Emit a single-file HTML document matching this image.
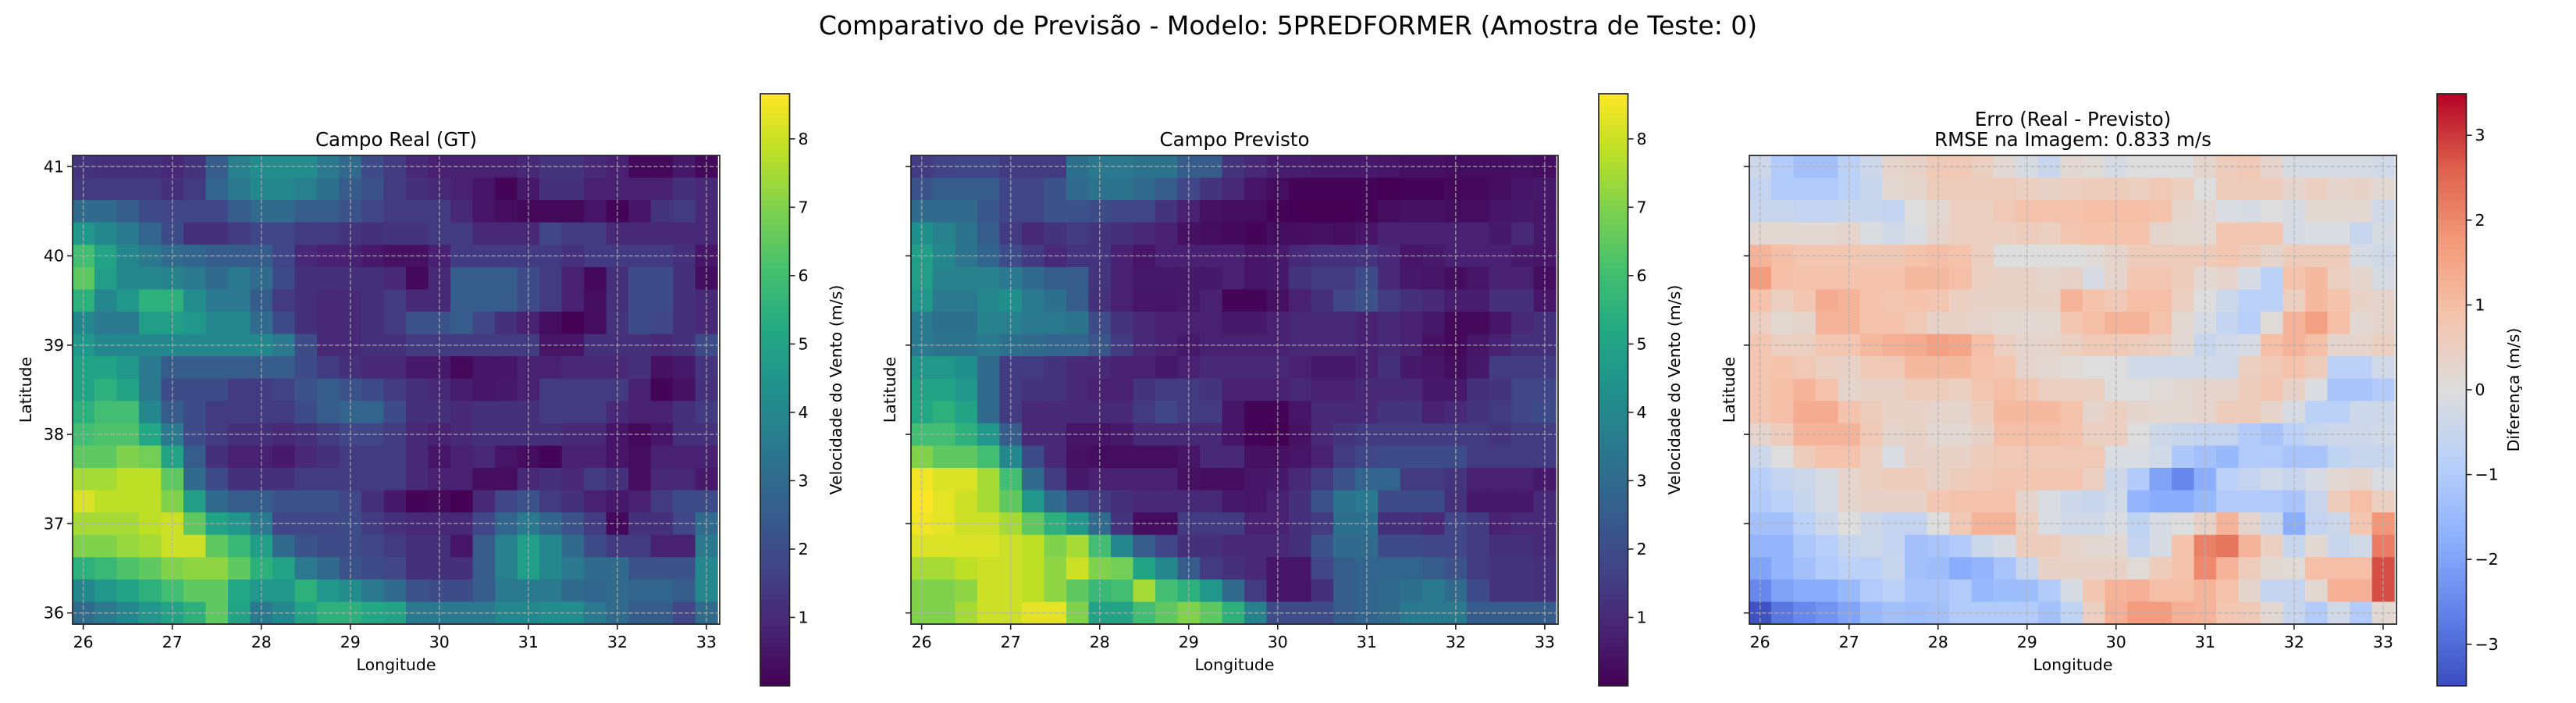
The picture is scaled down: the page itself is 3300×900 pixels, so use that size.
<!DOCTYPE html>
<html><head><meta charset="utf-8">
<style>
html,body{margin:0;padding:0;background:#fff;}
svg{display:block;font-family:"DejaVu Sans","Liberation Sans",sans-serif;}
</style></head>
<body>
<svg id="fig" width="3300" height="900" viewBox="0 0 3300 900" xmlns="http://www.w3.org/2000/svg">
<rect x="0" y="0" width="3300" height="900" fill="#fff"/>
<text x="1650" y="44" font-size="33" text-anchor="middle">Comparativo de Previsão - Modelo: 5PREDFORMER (Amostra de Teste: 0)</text>
</svg>
<script>
const lons=[26,26.25,26.5,26.75,27,27.25,27.5,27.75,28,28.25,28.5,28.75,29,29.25,29.5,29.75,30,30.25,30.5,30.75,31,31.25,31.5,31.75,32,32.25,32.5,32.75,33];
const lats=[41,40.75,40.5,40.25,40,39.75,39.5,39.25,39,38.75,38.5,38.25,38,37.75,37.5,37.25,37,36.75,36.5,36.25,36];
const xTicks=[26,27,28,29,30,31,32,33];
const yTicks=[36,37,38,39,40,41];
const speedTicks=[1,2,3,4,5,6,7,8];
const diffTicks=[-3,-2,-1,0,1,2,3];
const speedRange=[0.0,8.66];
const diffRange=[-3.49,3.49];
const gtValues=[
[1.3,1.2,1.2,1.2,1.0,1.3,2.5,3.7,4.2,4.2,4.2,3.5,3.0,2.0,1.5,1.0,0.8,0.8,0.8,0.8,1.0,1.3,1.3,1.0,0.8,0.2,0.2,0.6,0.2],
[1.5,1.5,1.5,1.5,1.2,1.5,2.8,3.5,4.0,4.0,3.7,3.2,2.5,2.2,1.5,1.2,1.0,0.8,0.5,0.1,0.6,1.2,1.2,0.8,0.8,0.8,0.8,1.2,1.0],
[3.0,3.0,2.5,2.0,1.8,1.8,1.8,2.5,3.0,3.0,2.5,2.5,2.2,1.8,1.5,1.5,1.5,1.0,0.5,0.3,0.2,0.2,0.2,0.5,0.1,0.5,1.3,1.5,1.0],
[4.5,4.0,3.5,2.8,2.0,1.2,1.2,1.5,1.8,1.8,1.5,1.5,1.3,1.2,1.3,1.3,1.5,1.5,1.0,1.0,1.0,1.8,1.5,1.5,1.0,1.0,1.0,1.0,1.0],
[6.0,5.0,4.0,3.5,3.0,2.8,2.5,2.5,2.5,1.8,1.0,0.8,0.8,0.6,0.4,0.4,0.8,1.5,1.5,1.5,1.5,1.5,1.2,1.5,1.5,1.5,1.5,1.2,0.5],
[6.5,4.8,4.0,4.0,3.8,3.5,3.0,3.5,3.0,2.0,1.2,1.2,1.2,1.2,1.0,0.2,1.0,2.5,2.5,2.5,2.0,1.5,0.8,0.2,1.2,2.0,2.0,1.2,0.3],
[5.5,4.0,4.5,5.5,5.5,4.2,3.5,3.5,2.5,1.5,1.2,1.0,1.0,1.2,1.5,1.0,1.0,2.5,2.5,2.5,2.0,1.5,0.8,0.3,1.2,2.0,2.0,1.2,1.0],
[4.0,3.5,3.5,4.8,4.8,4.5,4.0,4.0,3.0,2.0,1.2,1.0,1.0,1.2,1.5,2.2,2.2,2.5,1.8,1.2,0.8,0.3,0.0,0.3,1.3,2.0,1.8,1.2,1.0],
[4.5,4.0,4.0,4.0,4.0,4.0,4.0,4.0,4.0,3.5,2.0,1.0,1.0,1.2,1.2,1.5,1.5,1.5,1.5,1.5,1.5,0.5,0.5,1.2,1.2,1.2,1.0,1.2,2.0],
[5.0,5.0,4.5,3.5,2.5,2.5,2.5,2.5,2.5,2.5,2.0,1.5,1.2,1.0,1.0,0.6,0.6,0.2,0.5,0.5,0.8,0.8,1.0,1.0,1.0,1.2,0.4,0.6,1.3],
[5.0,5.5,5.0,3.5,2.0,2.0,2.0,1.5,1.5,1.7,2.2,2.5,2.2,2.0,1.5,1.2,1.0,0.7,0.5,0.6,0.8,1.5,1.5,1.5,1.5,0.8,0.1,0.4,1.2],
[5.5,6.0,6.0,4.0,2.5,2.0,1.5,1.5,1.5,1.5,2.0,2.5,2.8,2.8,2.0,1.2,1.2,1.0,1.2,1.2,1.2,1.5,1.5,1.5,1.0,0.8,0.8,1.2,1.5],
[6.0,6.2,6.2,5.2,3.5,2.0,1.5,1.2,1.2,1.0,1.2,1.5,1.8,1.8,1.5,1.0,0.8,1.0,1.2,1.2,1.2,1.2,1.0,1.0,0.5,0.2,0.5,1.2,1.2],
[6.5,6.5,7.0,6.8,5.0,2.5,1.2,0.8,0.8,0.6,1.0,1.2,1.5,1.5,1.5,1.0,0.5,0.8,1.0,0.5,0.3,0.1,0.8,0.8,0.5,0.3,0.8,0.8,0.8],
[7.5,7.5,7.8,7.8,6.5,3.0,2.0,1.2,1.2,1.2,1.5,1.5,1.5,1.5,1.5,1.0,0.8,0.8,0.3,0.3,1.0,1.2,1.0,1.5,1.2,0.3,1.0,1.0,0.6],
[8.2,7.8,7.8,7.8,7.0,4.8,3.0,2.5,2.5,2.2,2.2,2.2,1.8,1.2,0.6,0.1,0.2,0.0,1.0,1.8,2.2,1.5,1.2,0.8,0.6,0.8,1.5,2.0,2.0],
[7.5,7.5,7.5,7.8,8.0,6.5,5.0,4.5,3.5,1.8,1.8,1.8,2.0,1.5,1.2,1.0,1.0,1.0,1.8,2.8,3.5,2.8,2.2,1.5,0.2,1.2,1.2,1.8,3.0],
[7.0,7.0,7.3,7.5,8.0,8.0,6.5,5.8,4.8,3.0,2.2,2.0,2.0,1.8,1.5,1.2,1.2,0.5,2.5,3.8,4.8,4.0,3.0,2.0,1.5,1.5,0.8,0.8,3.5],
[5.5,5.8,6.2,6.5,7.0,7.2,7.2,6.5,5.5,5.0,3.5,3.0,2.2,2.0,1.8,1.2,1.2,1.2,2.5,3.8,4.8,4.0,3.5,3.0,3.0,2.2,2.2,2.2,4.0],
[4.0,4.5,5.0,5.5,6.0,6.5,6.5,5.2,4.5,4.5,5.5,4.5,4.2,3.5,3.0,2.2,2.0,2.0,2.5,3.5,3.5,3.5,3.0,2.8,3.0,2.8,2.8,2.5,4.0],
[3.0,3.5,4.0,4.5,5.0,5.5,6.5,5.0,3.5,4.0,5.0,5.5,5.5,5.2,5.0,3.5,3.5,3.5,3.5,4.0,4.0,4.2,4.2,3.5,3.0,2.5,2.5,1.8,3.0]];
const predValues=[
[1.5,1.7,1.8,1.8,1.5,1.5,1.5,3.2,3.5,3.5,3.3,3.3,2.5,2.5,1.3,1.0,0.7,0.7,0.6,0.6,0.6,0.5,0.4,0.4,0.3,0.3,0.3,0.4,0.3],
[2.2,2.5,2.5,2.5,1.8,1.8,2.2,3.0,3.3,3.3,3.0,2.5,1.8,1.3,1.0,0.5,0.3,0.1,0.1,0.1,0.1,0.0,0.1,0.1,0.2,0.2,0.3,0.5,0.6],
[3.0,3.0,3.0,2.3,1.8,1.8,2.2,2.2,2.0,1.8,1.8,1.3,0.8,0.4,0.3,0.3,0.1,0.0,0.0,0.0,0.1,0.3,0.4,0.4,0.3,0.3,0.5,0.6,0.5],
[4.3,3.8,3.3,2.5,1.5,1.0,1.3,1.5,1.3,1.2,1.0,0.8,0.4,0.3,0.2,0.1,0.3,0.3,0.4,0.3,0.5,0.8,0.8,0.8,0.8,0.8,0.6,1.0,0.6],
[4.8,4.0,3.3,2.8,2.0,1.5,1.0,1.3,1.3,0.8,0.5,0.8,0.8,0.8,0.8,0.5,0.6,1.0,1.2,1.2,1.3,1.0,0.5,0.6,0.8,0.8,0.8,0.6,0.5],
[4.8,3.8,3.8,3.8,3.5,3.0,2.5,2.5,1.3,0.8,0.6,0.6,0.6,0.6,0.8,0.5,0.6,1.3,1.5,1.5,2.0,1.0,0.6,0.5,0.3,0.5,0.8,0.8,0.3],
[4.5,3.5,3.5,4.0,4.3,3.5,3.2,2.5,1.2,0.8,0.5,0.5,0.6,0.8,0.1,0.1,0.4,0.8,1.2,1.8,2.2,1.5,1.2,1.0,0.7,0.7,1.2,1.2,0.5],
[3.5,3.2,3.2,3.8,3.7,3.5,3.5,3.3,2.0,1.3,1.0,0.8,0.8,0.8,0.6,0.6,0.8,1.0,1.0,1.0,0.8,1.0,0.8,0.6,0.2,0.2,0.5,1.0,1.2],
[3.5,3.3,3.3,3.5,3.2,3.0,2.8,2.8,2.3,1.5,1.0,0.8,0.6,0.8,0.8,0.8,0.8,1.0,1.0,1.0,0.8,1.0,0.8,0.4,0.2,0.5,0.8,1.2,1.2],
[4.5,4.5,4.3,3.0,1.5,1.5,1.3,1.0,1.0,0.8,0.8,0.6,0.8,1.0,1.0,1.0,1.0,0.8,0.6,0.6,0.8,1.2,0.6,0.5,0.3,0.6,1.5,1.5,1.5],
[5.0,5.0,4.5,3.0,1.5,1.3,1.3,1.0,0.8,0.8,1.3,1.5,1.5,1.3,0.8,0.8,0.8,1.0,0.8,0.8,1.0,1.0,1.0,0.6,0.6,1.2,1.3,1.8,1.8],
[5.2,5.5,5.0,3.0,1.5,1.0,1.0,1.0,1.0,1.0,1.5,1.8,1.5,1.5,0.5,0.1,0.1,0.5,1.0,1.0,1.0,1.3,1.3,0.8,1.0,1.3,1.5,1.8,2.0],
[6.0,6.0,5.5,4.5,2.5,1.0,1.0,0.5,0.5,0.6,1.0,1.0,1.0,1.0,0.5,0.1,0.0,0.4,1.0,1.3,1.5,1.5,1.5,1.5,1.5,1.5,1.3,1.5,1.5],
[7.0,6.5,6.5,6.0,4.0,2.0,1.0,0.4,0.3,0.3,0.3,0.3,0.5,1.0,1.0,0.4,0.4,0.5,0.8,1.5,1.8,2.0,2.0,2.0,2.0,1.5,1.5,1.5,1.5],
[8.5,8.2,8.2,7.5,6.0,3.0,1.5,0.6,0.8,0.8,0.8,0.8,0.4,0.3,0.3,0.5,0.6,1.0,1.5,2.2,2.8,2.8,1.5,1.5,1.3,0.8,0.8,0.8,0.6],
[8.7,8.3,8.0,7.5,6.5,4.5,3.0,2.0,1.5,1.2,1.0,1.0,1.0,1.0,0.6,0.5,0.8,1.2,2.2,3.3,3.5,2.0,2.0,2.0,1.2,0.6,0.6,0.6,1.0],
[8.5,8.3,8.0,8.0,7.5,6.5,5.5,4.5,3.0,1.3,0.3,0.3,1.5,1.5,1.5,0.8,0.8,1.2,1.5,3.2,3.2,1.2,1.2,1.0,1.8,1.5,0.8,1.0,1.0],
[8.2,8.2,8.2,8.2,8.0,7.8,7.0,7.5,6.0,4.0,2.5,1.8,1.2,1.2,1.0,1.0,1.0,1.2,2.2,3.0,3.0,2.0,2.0,1.8,1.8,1.5,1.2,1.2,1.0],
[7.5,7.5,7.8,8.0,8.0,7.8,7.2,8.0,7.0,6.8,5.0,4.0,2.5,1.5,1.2,1.0,0.5,0.5,1.8,2.5,2.8,2.8,2.8,2.5,2.2,1.5,1.3,1.3,1.2],
[7.0,7.0,7.2,8.0,8.0,7.8,7.2,6.5,5.8,6.0,7.5,6.0,5.5,4.5,3.0,1.5,0.5,0.5,1.2,2.5,2.8,3.0,3.2,3.5,3.0,2.0,1.3,1.3,1.2],
[7.0,7.0,7.5,8.0,8.0,8.3,8.3,7.0,5.0,5.0,6.0,6.5,7.0,6.5,5.5,3.8,2.0,2.0,2.0,2.5,2.8,3.0,3.5,3.5,3.5,2.5,2.5,2.5,2.5]];
const diffValues=[
[-0.4,-1.0,-1.3,-1.3,-0.8,-0.4,0.3,0.4,0.7,0.7,0.5,0.2,-0.2,-0.5,0.2,0.1,-0.2,0.0,0.0,0.0,0.3,0.6,0.7,0.3,-0.2,-0.2,-0.2,-0.2,-0.3],
[-0.6,-1.0,-1.0,-1.0,-0.8,-0.5,0.2,0.3,0.6,0.6,0.6,0.6,0.5,0.4,0.5,0.6,0.6,0.5,0.7,0.5,0.0,0.6,0.6,0.6,0.3,0.5,0.3,0.4,0.2],
[-0.5,-0.5,-0.6,-0.6,-0.5,-0.5,-0.6,0.0,0.2,0.5,0.5,0.7,0.9,0.9,0.9,1.0,1.0,1.0,0.9,0.3,0.2,-0.1,-0.2,0.0,-0.2,0.2,0.2,0.2,-0.3],
[0.2,0.2,0.2,0.2,0.3,-0.1,-0.3,-0.1,0.3,0.5,0.5,0.5,0.6,0.5,0.8,0.9,0.9,0.9,0.3,0.2,0.2,0.8,0.8,0.8,-0.2,-0.1,-0.1,-0.5,-0.2],
[1.2,1.0,0.8,0.8,0.8,0.7,0.7,0.9,1.0,0.9,0.5,0.0,0.0,0.0,0.0,0.1,0.3,0.6,0.6,0.6,0.6,0.8,0.6,0.3,0.6,0.6,0.6,-0.2,-0.3],
[1.7,1.0,0.9,0.9,0.9,0.9,0.9,1.1,1.1,1.0,0.5,0.4,0.4,0.3,0.4,-0.2,0.3,0.8,0.8,0.6,0.2,0.3,-0.2,-0.8,0.9,1.1,0.5,0.3,-0.2],
[0.9,0.5,0.8,1.4,1.2,0.9,0.8,0.9,0.8,0.5,0.4,0.4,0.4,0.4,1.2,0.9,0.7,1.0,1.0,0.5,0.0,-0.4,-0.8,-0.8,0.5,1.1,0.9,0.4,0.3],
[0.5,0.2,0.3,1.2,1.2,0.9,0.9,0.7,0.4,0.4,0.3,0.2,0.2,0.2,0.8,1.0,1.2,1.2,0.9,0.2,-0.2,-0.6,-0.9,0.1,1.2,1.6,1.0,0.2,0.3],
[0.8,0.5,0.5,0.8,0.8,1.1,1.3,1.4,1.6,1.5,1.0,0.5,0.3,0.3,0.5,0.7,0.7,0.6,0.5,0.2,-0.5,-0.3,-0.2,1.0,1.2,1.0,0.3,0.3,0.5],
[0.8,0.9,0.7,0.5,0.4,0.7,0.7,1.1,1.1,1.1,0.9,0.8,0.3,0.2,0.1,0.0,0.0,-0.3,-0.3,-0.3,-0.3,-0.3,0.5,0.7,0.9,0.6,-0.8,-0.8,-0.3],
[0.8,1.0,1.2,0.9,0.3,0.4,0.4,0.6,0.6,0.5,0.8,1.0,0.8,0.5,0.5,0.5,0.0,0.0,0.1,0.2,0.3,0.3,0.6,0.8,0.4,-0.1,-1.2,-1.2,-1.0],
[0.8,1.0,1.4,1.4,0.9,0.6,0.4,0.4,0.3,0.3,0.6,1.1,1.1,1.1,0.9,0.3,0.5,0.3,0.2,0.2,0.3,0.6,0.6,0.3,-0.2,-0.8,-0.8,-0.4,-0.4],
[0.3,0.6,1.2,1.2,1.2,0.7,0.3,0.4,0.2,0.2,0.4,1.0,1.0,1.0,0.9,0.5,0.5,0.0,-0.4,-0.5,-0.6,-0.6,-1.0,-1.2,-0.8,-0.5,-0.4,-0.4,-0.3],
[-0.4,0.0,0.6,0.9,0.9,0.5,-0.1,0.4,0.4,0.4,0.6,0.7,0.7,0.7,0.7,0.7,-0.1,-0.1,-0.3,-1.1,-1.3,-1.5,-1.0,-1.0,-1.2,-1.2,-0.7,-0.5,-0.5],
[-0.9,-0.6,-0.4,-0.2,0.3,0.5,0.6,0.6,0.4,0.6,0.7,0.8,0.8,0.8,0.8,0.5,-0.4,-1.0,-2.0,-2.5,-1.8,-0.8,-0.6,-0.3,-0.5,-0.2,0.2,0.3,-0.1],
[-1.0,-0.8,-0.5,-0.2,0.3,0.4,0.4,0.4,0.8,0.9,0.9,0.9,0.3,-0.1,-0.4,-0.5,-0.3,-1.6,-1.8,-1.8,-1.5,-1.0,-1.0,-1.0,-1.2,-0.5,0.6,1.0,0.5],
[-1.3,-1.3,-0.8,-0.4,0.0,-0.4,-0.6,-0.6,0.0,0.7,1.2,1.2,0.5,-0.1,-0.3,-0.3,-0.1,-0.7,-0.2,0.0,0.4,1.2,0.3,-0.4,-1.8,-0.6,-0.4,0.8,1.8],
[-1.6,-1.6,-1.1,-0.9,-0.5,-0.4,-0.6,-1.3,-1.2,-1.0,-0.4,-0.2,0.6,0.6,0.3,0.2,0.2,-0.6,-0.2,0.9,2.1,2.3,1.2,0.5,-0.5,0.2,-0.5,-0.3,2.2],
[-2.0,-1.6,-1.3,-1.0,-0.8,-0.8,-0.5,-1.3,-1.4,-1.8,-1.6,-1.2,-0.5,0.4,0.4,0.4,0.4,0.1,0.6,0.9,2.0,1.2,0.6,0.2,0.1,1.0,1.0,1.0,2.8],
[-2.5,-2.0,-1.8,-1.8,-1.5,-1.0,-0.8,-1.2,-1.2,-1.0,-1.5,-1.4,-1.4,-1.0,-0.2,0.8,1.2,1.3,1.0,1.0,1.2,0.9,0.3,-0.6,-0.6,0.2,1.3,1.3,2.8],
[-3.4,-2.8,-2.5,-2.3,-2.0,-1.5,-1.3,-1.4,-1.3,-1.0,-1.0,-1.0,-1.0,-1.3,-0.7,0.5,1.3,1.7,1.7,1.3,1.2,0.8,0.7,0.2,-0.5,-1.0,-0.3,-1.0,0.2]];

const NS='http://www.w3.org/2000/svg';
const svg=document.getElementById('fig');
function mk(tag,attrs,parent){const e=document.createElementNS(NS,tag);for(const k in attrs)e.setAttribute(k,attrs[k]);(parent||svg).appendChild(e);return e;}
const VIR=['#440154','#482475','#414487','#355f8d','#2a788e','#21918c','#22a884','#44bf70','#7ad151','#bddf26','#fde725'];
const CW=['#3b4cc0','#6282ea','#8db0fe','#b8d0f9','#dddddd','#f5c4ad','#f49a7b','#de604d','#b40426'];
function hex(h){return [parseInt(h.substr(1,2),16),parseInt(h.substr(3,2),16),parseInt(h.substr(5,2),16)];}
function cmap(stops,t){t=Math.max(0,Math.min(1,t));const n=stops.length-1;const f=t*n;const i=Math.min(n-1,Math.floor(f));const u=f-i;const a=hex(stops[i]),b=hex(stops[i+1]);return 'rgb('+a.map((v,k)=>Math.round(v+(b[k]-v)*u)).join(',')+')';}

const PY0=199,PY1=799;
const lonMin=25.88,lonMax=33.15,latMin=35.875,latMax=41.125;
function panel(cfg){
  const g=mk('g',{});
  
  
  const L=cfg.x0,R=cfg.x1;
  const xs=v=>L+(v-lonMin)/(lonMax-lonMin)*(R-L);
  const ys=v=>PY0+(latMax-v)/(latMax-latMin)*(PY1-PY0);
  const [vmin,vmax]=cfg.range;
  const cells=mk('g',{},g);
  
  
  cfg.data.forEach((row,ri)=>row.forEach((v,ci)=>{
    const x0=Math.max(L,xs(lons[ci]-0.125)),x1=Math.min(R,xs(lons[ci]+0.125)),y0=ys(lats[ri]+0.125),y1=ys(lats[ri]-0.125);
    const r=mk('rect',{x:x0.toFixed(2),y:y0.toFixed(2),width:(x1-x0+0.6).toFixed(2),height:(y1-y0+0.6).toFixed(2),fill:cmap(cfg.cmap,(v-vmin)/(vmax-vmin))},cells);
    
    
  }));
  xTicks.forEach(t=>{const l=mk('line',{x1:xs(t),x2:xs(t),y1:PY0,y2:PY1,stroke:'#b0b0b0','stroke-opacity':0.75,'stroke-width':1.5,'stroke-dasharray':'5.5,2.5'},g);});
  yTicks.forEach(t=>{const l=mk('line',{x1:L,x2:R,y1:ys(t),y2:ys(t),stroke:'#b0b0b0','stroke-opacity':0.75,'stroke-width':1.5,'stroke-dasharray':'5.5,2.5'},g);});
  const fr=mk('rect',{x:L,y:PY0,width:R-L,height:PY1-PY0,fill:'none',stroke:'#222',"stroke-width":1.7},g);
  
  xTicks.forEach(t=>{mk('line',{x1:xs(t),x2:xs(t),y1:PY1,y2:PY1+7,stroke:'#222','stroke-width':1.6},g);
    const tx=mk('text',{x:xs(t),y:PY1+30,'font-size':20.5,'text-anchor':'middle'},g);tx.textContent=String(t);
    });
  yTicks.forEach(t=>{mk('line',{x1:L-7,x2:L,y1:ys(t),y2:ys(t),stroke:'#222','stroke-width':1.6},g);
    if(cfg.yLabels){const tx=mk('text',{x:L-11,y:ys(t)+7,'font-size':20.5,'text-anchor':'end'},g);tx.textContent=String(t);
    }});
  const xl=mk('text',{x:(L+R)/2,y:858,'font-size':20.5,'text-anchor':'middle'},g);xl.textContent='Longitude';
  
  const yx=cfg.yTitleX;
  const yl=mk('text',{x:yx,y:(PY0+PY1)/2,'font-size':20.5,'text-anchor':'middle',transform:'rotate(-90 '+yx+' '+(PY0+PY1)/2+')'},g);yl.textContent='Latitude';
  
  cfg.titles.forEach((s,i)=>{const t=mk('text',{x:(L+R)/2,y:cfg.titleY+i*26,'font-size':24.5,'text-anchor':'middle'},g);t.textContent=s;
    });
  const CB0=120,CB1=878,cx0=cfg.cb,cx1=cfg.cb+37.5;
  const cb=mk('g',{},g);
  const N=150;
  for(let i=0;i<N;i++){const y0=CB1-(i+1)*(CB1-CB0)/N;mk('rect',{x:cx0,y:y0.toFixed(2),width:37.5,height:((CB1-CB0)/N+0.6).toFixed(2),fill:cmap(cfg.cmap,(i+0.5)/N)},cb);}
  mk('rect',{x:cx0,y:CB0,width:37.5,height:CB1-CB0,fill:'none',stroke:'#222','stroke-width':1.7},cb);
  const cy=v=>CB1-(v-vmin)/(vmax-vmin)*(CB1-CB0);
  cfg.ticks.forEach(t=>{mk('line',{x1:cx1,x2:cx1+7,y1:cy(t),y2:cy(t),stroke:'#222','stroke-width':1.6},cb);
    const tx=mk('text',{x:cx1+11,y:cy(t)+7,'font-size':20.5},cb);tx.textContent=(t<0?'\u2212'+(-t):String(t));
    });
  const lx=cfg.cbLabelX;
  const cl=mk('text',{x:lx,y:(CB0+CB1)/2,'font-size':20.5,'text-anchor':'middle',transform:'rotate(-90 '+lx+' '+(CB0+CB1)/2+')'},cb);cl.textContent=cfg.cbLabel;
  
}
panel({name:'ground-truth-panel',x0:93,x1:922,data:gtValues,cmap:VIR,range:speedRange,yLabels:true,yTitleX:40,titles:['Campo Real (GT)'],titleY:187,cb:974,ticks:speedTicks,cbLabel:'Velocidade do Vento (m/s)',cbLabelX:1078});
panel({name:'prediction-panel',x0:1167,x1:1996,data:predValues,cmap:VIR,range:speedRange,yLabels:false,yTitleX:1147,titles:['Campo Previsto'],titleY:187,cb:2048,ticks:speedTicks,cbLabel:'Velocidade do Vento (m/s)',cbLabelX:2152});
panel({name:'error-panel',x0:2241,x1:3070,data:diffValues,cmap:CW,range:diffRange,yLabels:false,yTitleX:2222,titles:['Erro (Real - Previsto)','RMSE na Imagem: 0.833 m/s'],titleY:161,cb:3122,ticks:diffTicks,cbLabel:'Diferença (m/s)',cbLabelX:3227});
</script>
</body></html>
